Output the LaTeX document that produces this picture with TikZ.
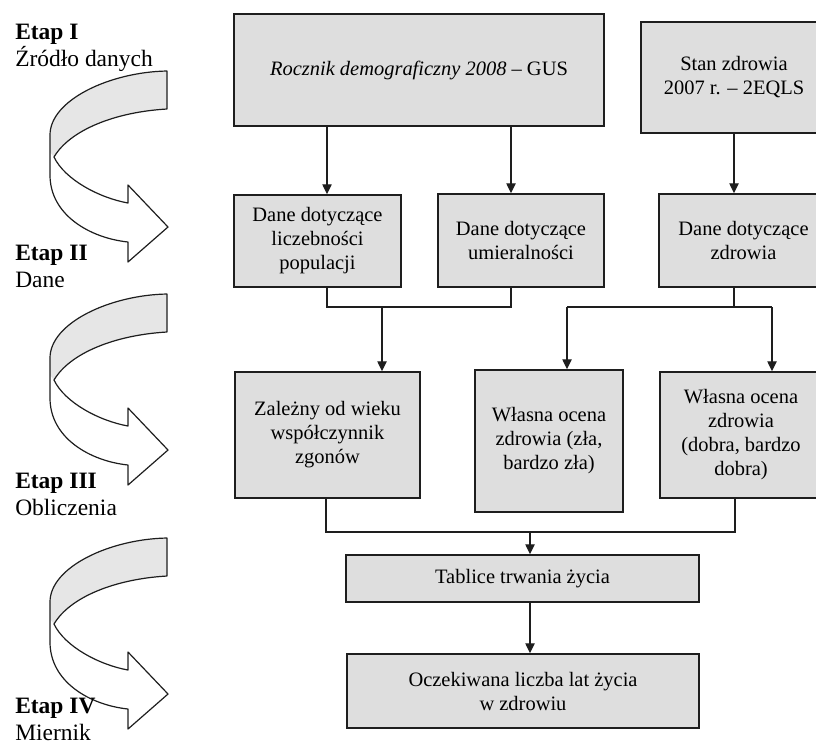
\documentclass[tikz,border=0pt]{standalone}
\usepackage{fontspec}
\setmainfont{Liberation Serif}
\usetikzlibrary{arrows.meta}
\definecolor{boxgray}{RGB}{222,222,222}
\definecolor{ribgray}{RGB}{230,230,230}
\definecolor{ink}{RGB}{30,30,30}
\begin{document}
\begin{tikzpicture}[x=0.75pt,y=-0.75pt,
  box/.style={draw=ink, fill=boxgray, line width=1.1pt, align=center, inner sep=0pt,
              font=\fontsize{15.35}{18}\selectfont},
  sz/.style 2 args={minimum width=#1*0.75pt, minimum height=#2*0.75pt},
  conn/.style={draw=ink, line width=1pt},
  arr/.style={conn, -{Triangle[length=7.5pt,width=7pt]}},
  rib/.style={draw=ink, line width=0.9pt, line join=round},
  lab/.style={anchor=base west, inner sep=0pt, font=\fontsize{17.6}{20}\selectfont}]

\clip (0,0) rectangle (816,744);

% ribbons (curved arrows)
\foreach \dy in {0,223,467} {
  \begin{scope}[shift={(0,\dy)}]
    \fill[white] (167,71) .. controls (110,72) and (50,100) .. (50,135) -- (50,175)
      .. controls (50,215) and (90,238) .. (128,242) -- (128,262) -- (168,227) -- (128,185) -- (128,203)
      .. controls (100,198) and (65,180) .. (54,157) .. controls (70,130) and (115,112) .. (167,109) -- cycle;
    \fill[ribgray] (167,71) .. controls (110,72) and (50,100) .. (50,135) -- (50,152) -- (54,157)
      .. controls (70,130) and (115,112) .. (167,109) -- cycle;
    \draw[rib] (167,71) .. controls (110,72) and (50,100) .. (50,135) -- (50,175)
      .. controls (50,215) and (90,238) .. (128,242) -- (128,262) -- (168,227) -- (128,185) -- (128,203)
      .. controls (100,198) and (65,180) .. (54,157) .. controls (70,130) and (115,112) .. (167,109) -- cycle;
  \end{scope}
}

% stage labels
\node[lab] (e1) at (15,39) {\bfseries Etap I};
\node[lab] (s1) at (15,66) {Źródło danych};
\node[lab] (e2) at (15,260) {\bfseries Etap II};
\node[lab] (s2) at (15,287) {Dane};
\node[lab] (e3) at (15,488) {\bfseries Etap III};
\node[lab] (s3) at (15,515) {Obliczenia};
\node[lab] (e4) at (15,713) {\bfseries Etap IV};
\node[lab] (s4) at (15,740) {Miernik};

% boxes
\node[box, sz={370}{112}] (gus) at (419,70) {\textit{Rocznik demograficzny 2008} – GUS};
\node[box, sz={186}{111}] (stan) at (734,77.5) {Stan zdrowia\\2007 r. – 2EQLS};
\node[box, sz={167}{92}] (licz) at (317.5,241) {Dane dotyczące\\liczebności\\populacji};
\node[box, sz={166}{93}] (umier) at (521,240.5) {Dane dotyczące\\umieralności};
\node[box, sz={169}{93}] (zdrow) at (743.5,240.5) {Dane dotyczące\\zdrowia};
\node[box, sz={185}{126}] (zal) at (327.5,435) {Zależny od wieku\\współczynnik\\zgonów};
\node[box, sz={148}{142}] (zla) at (549,441) {Własna ocena\\zdrowia (zła,\\bardzo zła)};
\node[box, sz={162}{126}] (dobra) at (741,435) {Własna ocena\\zdrowia\\(dobra, bardzo\\dobra)};
\node[box, sz={353}{47}] (tab) at (522.5,578.5) {Tablice trwania życia};
\node[box, sz={352}{74}] (oczek) at (523,691) {Oczekiwana liczba lat życia\\w zdrowiu};

% junction coordinates
\coordinate (jA) at (327,307);
\coordinate (jAr) at (511,307);
\coordinate (jAm) at (382,307);
\coordinate (jB) at (734,307);
\coordinate (jBl) at (567,307);
\coordinate (jBr) at (772,307);
\coordinate (jC) at (326,532);
\coordinate (jCr) at (735,532);
\coordinate (jCm) at (530,532);

% connectors
\draw[arr] (gus.south -| jA) -- (licz.north -| jA);
\draw[arr] (gus.south -| jAr) -- (umier.north -| jAr);
\draw[arr] (stan.south -| jB) -- (zdrow.north -| jB);
\draw[conn] (licz.south -| jA) -- (jA) -- (jAr) -- (umier.south -| jAr);
\draw[arr] (jAm) -- (zal.north -| jAm);
\draw[conn] (zdrow.south -| jB) -- (jB);
\draw[conn] (jBl) -- (jBr);
\draw[arr] (jBl) -- (zla.north -| jBl);
\draw[arr] (jBr) -- (dobra.north -| jBr);
\draw[conn] (zal.south -| jC) -- (jC) -- (jCr) -- (dobra.south -| jCr);
\draw[arr] (jCm) -- (tab.north -| jCm);
\draw[arr] (tab.south -| jCm) -- (oczek.north -| jCm);
\end{tikzpicture}
\end{document}
